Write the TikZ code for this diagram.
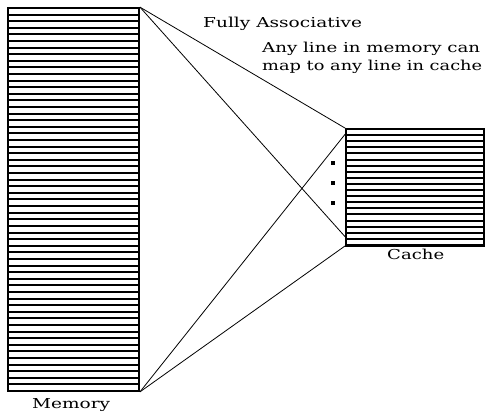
\documentclass[tikz,border=0pt]{standalone}
\usepackage{fontspec}
\setmainfont{DejaVu Serif}
\usetikzlibrary{calc}
\begin{document}
\begin{tikzpicture}[x=1pt,y=-1pt,
  block/.style={draw, line width=1.8pt, inner sep=0pt, fill=white},
  stripe/.style={line width=1.8pt},
  link/.style={line width=0.8pt},
  dotmark/.style={fill=black, inner sep=0pt, minimum size=4pt},
  label/.style={inner sep=0pt, anchor=base west, font=\fontsize{13.7}{16}\selectfont}]
\useasboundingbox (0,0) rectangle (489,413);

% memory block, stripes snapped to whole units for even spacing
\node[block, minimum width=131pt, minimum height=383pt] (mem) at (73.5,199.5) {};
\foreach \k in {1,...,57}{
  \pgfmathsetmacro{\dy}{round(\k*6.6034)+0.5}
  \draw[stripe] ($(mem.north west)+(0,\dy)$) -- ($(mem.north east)+(0,\dy)$);
}

% cache block
\node[block, minimum width=138pt, minimum height=116pt] (cache) at (415,187) {};
\foreach \k in {1,...,18}{
  \pgfmathsetmacro{\dy}{round(\k*6.1053)+0.5}
  \draw[stripe] ($(cache.north west)+(0,\dy)$) -- ($(cache.north east)+(0,\dy)$);
}
\draw[line width=2.8pt] (cache.south west) -- (cache.south east);

% end points on the cache side
\coordinate (cA) at ($(cache.north west)!0.052!(cache.south west)$);
\coordinate (cB) at ($(cache.north west)!0.922!(cache.south west)$);

% mapping lines
\draw[link] (mem.north east) -- (cache.north west);
\draw[link] (mem.north east) -- (cB);
\draw[link] (mem.south east) -- (cA);
\draw[link] (mem.south east) -- (cache.south west);

% ellipsis dots
\node[dotmark] (d1) at (333,163) {};
\node[dotmark] (d2) at (333,183) {};
\node[dotmark] (d3) at (333,203) {};

% labels
\node[label] (title) at (203,27) {\resizebox{159pt}{\height}{Fully Associative}};
\node[label] (desc1) at (262,52) {\resizebox{218pt}{\height}{Any line in memory can}};
\node[label] (desc2) at (262,70) {\resizebox{220pt}{\height}{map to any line in cache}};
\node[label] (memlbl) at (32,408) {\resizebox{78pt}{\height}{Memory}};
\node[label] (cachelbl) at (387,259) {\resizebox{57pt}{\height}{Cache}};
\end{tikzpicture}
\end{document}
